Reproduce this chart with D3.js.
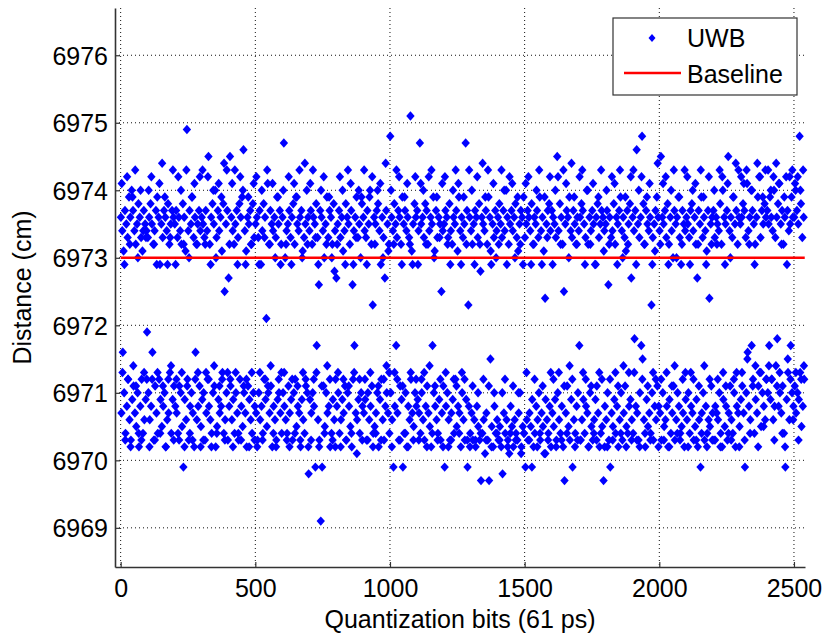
<!DOCTYPE html>
<html>
<head>
<meta charset="utf-8">
<script src="https://cdn.jsdelivr.net/npm/d3@7"></script>
<style>
  body { margin: 0; background: #fff; }
  svg { display: block; font-family: "Liberation Sans", Arial, Helvetica, sans-serif; }
</style>
</head>
<body>
<script>
// axis ticks
var xTicks = [0, 500, 1000, 1500, 2000, 2500];
var yTicks = [6969, 6970, 6971, 6972, 6973, 6974, 6975, 6976];

// UWB samples, one char per sample (base 36 = tenths of cm above the base value)
// each string covers 100 quantization bits
var upperBase = 6972, lowerBase = 6969;

// pass A: one sample every 5 bits
var upperLevels = [
  "gebhfdjgkhecfigdbhfe", "dgifcehjg9fdhgeicfhg", "fhdgecigbtehfjdgcfhe", "gfdhepcgifkdhegbi5fh",
  "7pgecfhdigjqebgfhcid", "fgdh9eig1lchfegdjfhc", "graefhdgicjfeghbdfkg", "ehcgfid6hgeafjdhgcie",
  "7fhdgbeigfch6egjdfai", "gedhfkc3gfhie9gd7hfc", "sgeifdhgcjfhegdvbfig", "herfgdihcegfjbhdgf5e",
  "fhgdiecgfhbjegdfrh3g", "ecfhgdi8gfehcjg9fdhe", "gifdhekgcfhegidbfhgj", "dfhgeicgfhdjegb4fhie",
  "hgfdpeigc5fhgjedhfcg", "egihfdkcgehf9gidfhge", "fh6gdeicgfhjegdbhfi7", "gehqfdgsichfeg3dfhjg",
  "epgfhdicgeahfgjd9hfe", "gfdhiegc7hfjdgebh4fg", "hdgfeickgfhpegdjfhcg", "fgihdlegkhfcgjmdhfig",
  "hfjgekdgilfhcgmhefjg", "gkhfsidg"
];
var lowerLevels = [
  "hqkeimgdjlhfkcimegjt", "kgiqdlhemjfikcghnejl", "ihelkf9jgmdikhcqgilf", "jkdhmigeklcfjhinegkd",
  "ilgjekhdmifkhcljgeki", "hdkgiemjfkhlcigdjkhe", "kigelhjdkmfihcjgelk8", "jhki9rgd19lfkhicejgm",
  "ikegjhldkifcmrhgjeki", "hjdkgilefhkcjmgdikhe", "kg9irhdlj9ekcigmhfki", "jhekgdilhfcrkigejdhl",
  "9ikgdhjemfihckgdj9ie", "hdgcifd7egbhd7pfcieg", "dfc8hegdbifcgedhkcfe", "9gdhfjceigkdhfbjgeic",
  "hfjdkgeic7hlfdj9geik", "rdgjeihckfdgjlhcef7i", "gkd9hfjeicgkdhlfeijg", "esihdkrpgcjfhekdigli",
  "hdkfgicjehldgkiefhcj", "gkeihdfjcg9hkdiegflh", "dihgkecjfidhlgekcihf", "jlh9kqigrmejhlnfkigm",
  "krjmgiosikhle9jngrki", "lhkjnfim"
];

// pass B: one sample every 10 bits
var upperLevelsB = [
  "l9mcjnaked", "kmc9loj9dn", "9mkcnajlcm", "ncm9kaljon", "cln9mk9jcl", "m9kdnclaj9",
  "kcm9ljnaoc", "lnd9kmcja8", "cmk9nl9dkj", "n9jmcklaob", "kcnm9jlc9m", "9lkcmnajdl",
  "mc9knl9jcn", "k9mcojnbla", "cnk9mlajc9", "lm9ckn9jdm", "9kmcnlaojc", "mn9kcl9jnb",
  "kcml9najcm", "n9kmcjl9bo", "clm9knajcn", "m9klcnj9mc", "kcnm9lajon", "mlnck9omjn",
  "nkmolcj9mn", "lmkn"
];
var lowerLevelsB = [
  "ndmcolednm", "cmdnelcmod", "mdncledmnc", "dnmcoelmdn", "mcnedlmcnd", "cndmloecmn",
  "ndcmeldnmc", "dmncleomdc", "ncmdlenbmd", "mdnceldmon", "cnmdlecndm", "dmncoeldmc",
  "ncdmlenmdc", "ldkemdlcke", "dkmceldkbe", "nd9mcelbdn", "mcndleomcd", "dnmclednmc",
  "cmdnleocnd", "ndcmeldnmc", "mdncloedmn", "cnmdleocmd", "dmcnledmnc", "ndpelocnfm",
  "omdlnecpmg", "ndmo"
];

// baseline
var baselineX = [0, 2540];
var baselineY = [6973, 6973];

var svgWidth = 826, svgHeight = 638;
var margin = {top: 8, right: 21, bottom: 71, left: 115},
    width = svgWidth - margin.left - margin.right,
    height = svgHeight - margin.top - margin.bottom;

function unpack(chunks, base, start, step) {
  return chunks.join("").split("").map(function(c, i) {
    return {x: start + i * step, y: base + parseInt(c, 36) / 10};
  });
}
var uwb = unpack(upperLevels, upperBase, 1, 5)
  .concat(unpack(lowerLevels, lowerBase, 3, 5))
  .concat(unpack(upperLevelsB, upperBase, 4, 10))
  .concat(unpack(lowerLevelsB, lowerBase, 7, 10));

var x = d3.scaleLinear().domain([-21, 2541]).range([0, width]);
var y = d3.scaleLinear().domain([6968.42, 6976.70]).range([height, 0]);

var svg = d3.select("body").append("svg")
    .attr("width", svgWidth)
    .attr("height", svgHeight);
svg.append("rect").attr("width", svgWidth).attr("height", svgHeight).attr("fill", "#fff");

var g = svg.append("g")
    .attr("transform", "translate(" + margin.left + "," + margin.top + ")");

// dotted grid
g.append("g").selectAll("line")
  .data(xTicks).enter().append("line")
    .attr("x1", function(d) { return x(d); }).attr("x2", function(d) { return x(d); })
    .attr("y1", 0).attr("y2", height)
    .attr("stroke", "#111").attr("stroke-width", 1).attr("stroke-dasharray", "1,3");
g.append("g").selectAll("line")
  .data(yTicks).enter().append("line")
    .attr("x1", 0).attr("x2", width)
    .attr("y1", function(d) { return y(d); }).attr("y2", function(d) { return y(d); })
    .attr("stroke", "#111").attr("stroke-width", 1).attr("stroke-dasharray", "1,3");

function diamond(w, h) {
  return "M0," + (-h) + "L" + w + ",0L0," + h + "L" + (-w) + ",0Z";
}

g.append("g").selectAll("path")
  .data(uwb).enter().append("path")
    .attr("transform", function(d) { return "translate(" + x(d.x) + "," + y(d.y) + ")"; })
    .attr("d", diamond(4.2, 4.7))
    .attr("fill", "#0000ff");

var line = d3.line()
    .x(function(d) { return x(d[0]); })
    .y(function(d) { return y(d[1]); });
g.append("path")
    .datum(d3.zip(baselineX, baselineY))
    .attr("d", line)
    .attr("fill", "none")
    .attr("stroke", "#ff0000")
    .attr("stroke-width", 2.5);

// axes
var xAxis = g.append("g")
    .attr("transform", "translate(0," + height + ")")
    .call(d3.axisBottom(x).tickValues(xTicks).tickFormat(d3.format("d")).tickSizeInner(-5).tickSizeOuter(0).tickPadding(11));
var yAxis = g.append("g")
    .call(d3.axisLeft(y).tickValues(yTicks).tickFormat(d3.format("d")).tickSizeInner(-5).tickSizeOuter(0).tickPadding(7));
[xAxis, yAxis].forEach(function(a) {
  a.select(".domain").attr("stroke", "#333").attr("stroke-width", 1.6);
  a.selectAll(".tick line").attr("stroke", "#333").attr("stroke-width", 1.2);
  a.selectAll("text").attr("font-size", 25).attr("fill", "#000")
    .attr("font-family", "'Liberation Sans', Arial, sans-serif");
});
xAxis.selectAll("text").attr("dy", null).attr("y", 30);
yAxis.selectAll("text").attr("dy", "0.35em");

// labels
svg.append("text")
    .attr("x", margin.left + width / 2)
    .attr("y", 628)
    .attr("text-anchor", "middle")
    .attr("font-size", 25)
    .text("Quantization bits (61 ps)");
svg.append("text")
    .attr("transform", "translate(31," + (margin.top + height / 2) + ") rotate(-90)")
    .attr("text-anchor", "middle")
    .attr("font-size", 25)
    .text("Distance (cm)");

// legend
var legend = svg.append("g").attr("transform", "translate(613,18)");
legend.append("rect")
    .attr("width", 184).attr("height", 77)
    .attr("fill", "#fff").attr("stroke", "#333").attr("stroke-width", 1.2);
legend.append("path")
    .attr("transform", "translate(39,20)")
    .attr("d", diamond(3.5, 4))
    .attr("fill", "#0000ff");
legend.append("line")
    .attr("x1", 11).attr("x2", 68).attr("y1", 55).attr("y2", 55)
    .attr("stroke", "#ff0000").attr("stroke-width", 2.5);
legend.append("text").attr("x", 74).attr("y", 29).attr("font-size", 25).text("UWB");
legend.append("text").attr("x", 74).attr("y", 65).attr("font-size", 25).text("Baseline");
</script>
</body>
</html>
